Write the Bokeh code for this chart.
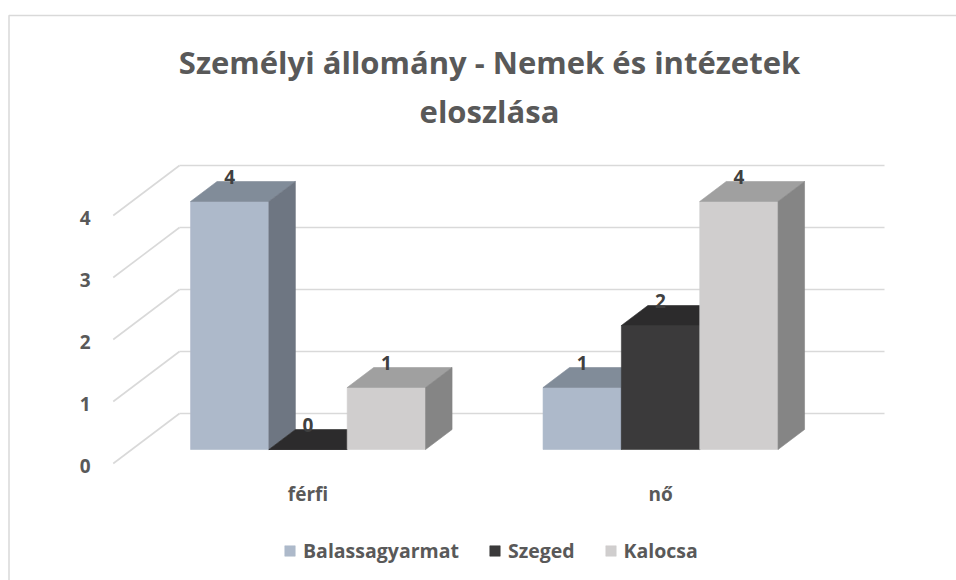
from bokeh.plotting import figure
from bokeh.models import Range1d, Legend, LegendItem
from bokeh.core.properties import value
from bokeh.embed import file_html
from bokeh.resources import INLINE

# ---------------- data ----------------
categories = ["férfi", "nő"]
series_names = ["Balassagyarmat", "Szeged", "Kalocsa"]
balassagyarmat = [4, 1]
szeged = [0, 2]
kalocsa = [1, 4]
y_ticks = [0, 1, 2, 3, 4]
title_lines = ["Személyi állomány - Nemek és intézetek", "eloszlása"]

series_values = [balassagyarmat, szeged, kalocsa]

# ---------------- styles ----------------
front_colors = ["#ADB9CA", "#3B3A3B", "#D0CECE"]
top_colors = ["#818C99", "#2C2B2C", "#A0A0A0"]
side_colors = ["#6E7682", "#282828", "#858585"]
TEXT_COLOR = "#595959"
LABEL_COLOR = "#404040"
GRID_COLOR = "#D9D9D9"
FONT_NAME = "Open Sans"
FONT = value(FONT_NAME)
LBL_SIZE = "19px"

# ---------------- geometry ----------------
W, H = 956, 580
OFF = 0
PX_X = 352.5      # px per category unit
PX_Y = 62.0       # px per value unit
X0_PAGE = 131.3   # page x of category origin on bar front plane
Y0_PAGE = 449.0   # page y of value 0 on bar front plane
DX = 26.5 / PX_X  # depth offset (one bar depth) in x data units
DY = 20.0 / PX_Y  # depth offset in y data units
D_WALL_FRONT = -0.7
D_WALL_BACK = 1.8
BAR_W = 1 / 4.5   # gap width 150%


def xd(page_x):
    return (page_x - X0_PAGE) / PX_X


def yd(page_y):
    return (Y0_PAGE - page_y) / PX_Y


p = figure(width=W, height=H,
           x_range=Range1d(xd(OFF), xd(OFF + W)),
           y_range=Range1d(yd(OFF + H), yd(OFF)),
           output_backend="svg", toolbar_location=None,
           x_axis_location=None, y_axis_location=None,
           min_border=0)
p.grid.visible = False
p.outline_line_color = None
p.background_fill_color = "white"
p.border_fill_color = "white"

# chart border (left and top visible)
p.line(x=[xd(8.5), xd(8.5), xd(OFF + W + 5)], y=[yd(OFF + H + 5), yd(15), yd(15)],
       line_color=GRID_COLOR, line_width=1.5)

# ---------------- gridlines ----------------
n_cat = len(categories)
gx, gy = [], []
for v in y_ticks:
    # back wall
    gx.append([D_WALL_BACK * DX, n_cat + D_WALL_BACK * DX])
    gy.append([v + D_WALL_BACK * DY, v + D_WALL_BACK * DY])
    # side wall
    gx.append([D_WALL_FRONT * DX, D_WALL_BACK * DX])
    gy.append([v + D_WALL_FRONT * DY, v + D_WALL_BACK * DY])
p.multi_line(xs=gx, ys=gy, line_color=GRID_COLOR, line_width=1.6)

# ---------------- 3D bars ----------------
legend_items = []
n_ser = len(series_values)
lbl_x, lbl_y, lbl_t = [], [], []
for j, vals in enumerate(series_values):
    fx, fy, tx, ty, sx, sy = [], [], [], [], [], []
    for i, v in enumerate(vals):
        left = i + 0.5 + (j - n_ser / 2) * BAR_W
        right = left + BAR_W
        fx.append([left, right, right, left])
        fy.append([0, 0, v, v])
        tx.append([left, right, right + DX, left + DX])
        ty.append([v, v, v + DY, v + DY])
        sx.append([right, right + DX, right + DX, right])
        sy.append([0, DY, v + DY, v])
        lbl_x.append((left + right) / 2)
        lbl_y.append(v + DY + 5 / PX_Y)
        lbl_t.append(str(v))
    r_front = p.patches(xs=fx, ys=fy, fill_color=front_colors[j],
                        line_color=front_colors[j], line_width=0.6)
    p.patches(xs=tx, ys=ty, fill_color=top_colors[j],
              line_color=top_colors[j], line_width=0.6)
    p.patches(xs=sx, ys=sy, fill_color=side_colors[j],
              line_color=side_colors[j], line_width=0.6)
    legend_items.append(LegendItem(label=series_names[j], renderers=[r_front]))

# data labels
p.text(x=lbl_x, y=lbl_y, text=lbl_t, text_align="center",
       text_baseline="middle", text_font=FONT, text_font_style="bold",
       text_font_size=LBL_SIZE, text_color=LABEL_COLOR)

# y tick labels
p.text(x=[xd(90)] * len(y_ticks),
       y=[v + D_WALL_FRONT * DY - 2 / PX_Y for v in y_ticks],
       text=[str(v) for v in y_ticks], text_align="right",
       text_baseline="middle", text_font=FONT, text_font_style="bold",
       text_font_size=LBL_SIZE, text_color=TEXT_COLOR)

# category labels
p.text(x=[i + 0.5 for i in range(n_cat)], y=[yd(493)] * n_cat,
       text=categories, text_align="center", text_baseline="middle",
       text_font=FONT, text_font_style="bold", text_font_size=LBL_SIZE,
       text_color=TEXT_COLOR)

# title
p.text(x=[xd(489)] * 2, y=[yd(61), yd(110)], text=title_lines,
       text_align="center", text_baseline="middle", text_font=FONT,
       text_font_style="bold", text_font_size="31px", text_color=TEXT_COLOR)

# legend
legend = Legend(items=legend_items, orientation="horizontal",
                location=(283, 16), padding=0, margin=0, spacing=29,
                glyph_width=13, glyph_height=13, label_standoff=7,
                border_line_color=None, background_fill_alpha=0,
                label_text_font=FONT_NAME, label_text_font_style="bold",
                label_text_font_size="19.5px", label_text_color=TEXT_COLOR)
p.add_layout(legend)

open("out.html", "w").write(file_html(p, INLINE))
